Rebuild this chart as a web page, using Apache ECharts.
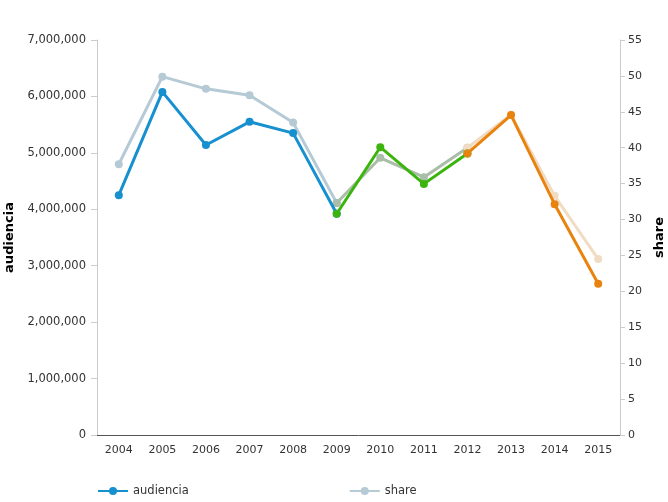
<!DOCTYPE html>
<html><head><meta charset="utf-8">
<script src="https://cdn.jsdelivr.net/npm/echarts@6/dist/echarts.min.js"></script>
<style>html,body{margin:0;padding:0;background:#fff}#c{width:668px;height:502px}</style>
</head><body><div id="c"></div>
<script>
const years = ['2004','2005','2006','2007','2008','2009','2010','2011','2012','2013','2014','2015'];
const audiencia = [4250000,6080000,5140000,5550000,5350000,3920000,5100000,4450000,4990000,5670000,4090000,2680000];
const share = [37.7,49.9,48.2,47.3,43.5,32.3,38.6,35.9,40.0,44.6,33.3,24.5];
// segment boundaries (indices): blue 0-5, green 5-8, orange 8-11
const segments = [[0,5],[5,8],[8,11]];
const audColors = ['#1690cf','#3cb40e','#e9830f'];
const shareColors = ['#b5cad5','#a9bda9','#f1dcc3'];

function seg(arr, s){ return arr.map((v,i)=> (i>=s[0] && i<=s[1]) ? v : null); }

const font = 'DejaVu Sans';
const series = [];
segments.forEach((s,k)=>{
  series.push({name:'share', type:'line', yAxisIndex:1, data:seg(share,s), symbol:'circle', symbolSize:8,
    lineStyle:{width:3,color:shareColors[k]}, itemStyle:{color:shareColors[k]}, z:2, connectNulls:false});
});
segments.forEach((s,k)=>{
  series.push({name:'audiencia', type:'line', yAxisIndex:0, data:seg(audiencia,s), symbol:'circle', symbolSize:8,
    lineStyle:{width:3,color:audColors[k]}, itemStyle:{color:audColors[k]}, z:3, connectNulls:false});
});

const chart = echarts.init(document.getElementById('c'));
chart.setOption({
  animation:false,
  textStyle:{fontFamily:font},
  grid:{left:97,right:48,top:40,bottom:67,outerBoundsMode:'none',containLabel:false},
  legend:{
    data:[{name:'audiencia',itemStyle:{color:audColors[0]},lineStyle:{color:audColors[0]}},
          {name:'share',itemStyle:{color:shareColors[0]},lineStyle:{color:shareColors[0]}}],
    left:92, top:480, itemGap:160, itemWidth:30, itemHeight:10,
    textStyle:{fontFamily:font,fontSize:11.5,color:'#333'}
  },
  xAxis:{type:'category', data:years, boundaryGap:true,
    axisLine:{lineStyle:{color:'#555'}},
    axisTick:{alignWithLabel:true,length:5,lineStyle:{color:'#555'}},
    axisLabel:{fontFamily:font,fontSize:11,color:'#333',margin:10},
    splitLine:{show:false}},
  yAxis:[
    {type:'value', min:0, max:7000000, interval:1000000, name:'audiencia', nameLocation:'middle', nameGap:74, nameRotate:90,
     nameTextStyle:{fontFamily:font,fontSize:13,fontWeight:'bold',color:'#000'},
     axisLine:{show:true,lineStyle:{color:'#ccc'}}, axisTick:{show:true,length:6,lineStyle:{color:'#ccc'}},
     axisLabel:{fontFamily:font,fontSize:11.5,color:'#333',margin:11,formatter:v=>v.toLocaleString('en-US')},
     splitLine:{show:false}},
    {type:'value', min:0, max:55, interval:5, name:'share', nameLocation:'middle', nameGap:32, nameRotate:90,
     nameTextStyle:{fontFamily:font,fontSize:13,fontWeight:'bold',color:'#000'},
     axisLine:{show:true,lineStyle:{color:'#ccc'}}, axisTick:{show:true,length:5,lineStyle:{color:'#ccc'}},
     axisLabel:{fontFamily:font,fontSize:11,color:'#333',margin:8},
     splitLine:{show:false}}
  ],
  series:series
});
</script></body></html>
